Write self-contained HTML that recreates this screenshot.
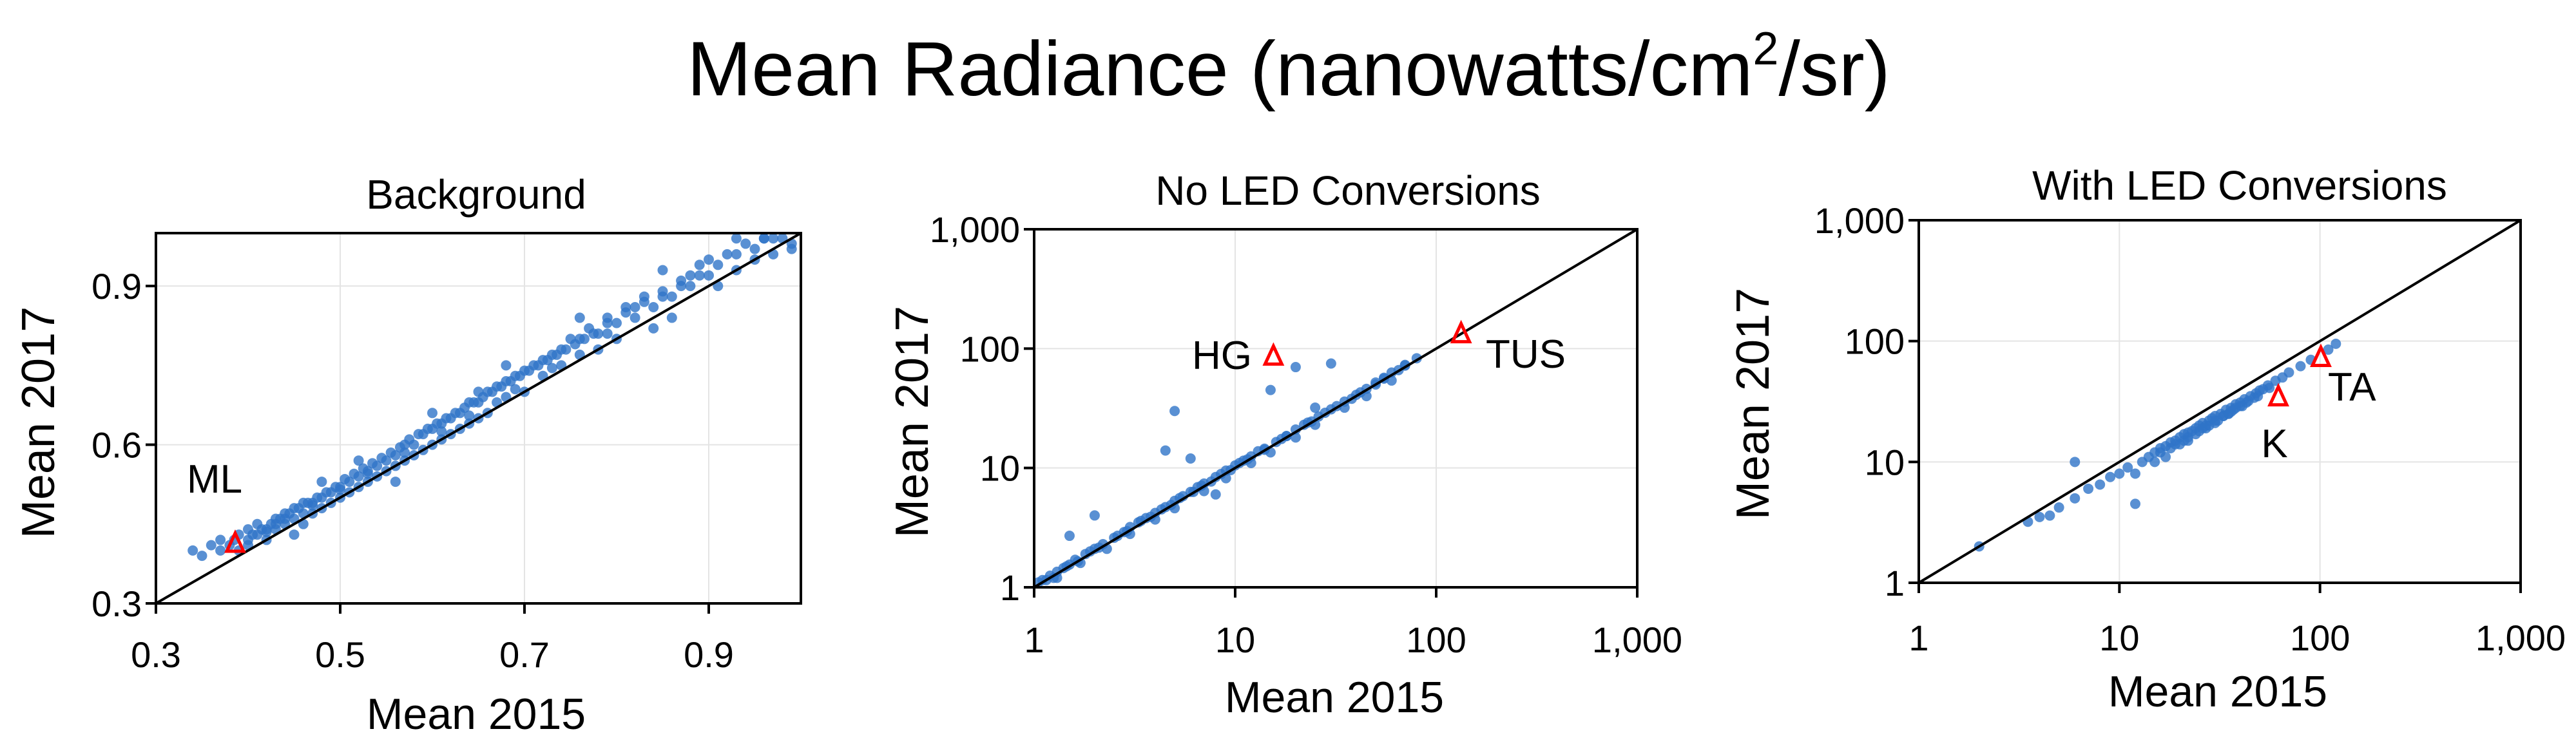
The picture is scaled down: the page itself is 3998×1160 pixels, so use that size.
<!DOCTYPE html>
<html><head><meta charset="utf-8"><style>
html,body{margin:0;padding:0;background:#fff}
svg{display:block;font-family:"Liberation Sans Narrow","Liberation Sans",sans-serif}
</style></head><body>
<svg id="fig" width="3998" height="1160" viewBox="0 0 3998 1160" xmlns="http://www.w3.org/2000/svg">
<text x="2000" y="148" font-size="120" text-anchor="middle" fill="#000" font-family="Liberation Sans, sans-serif">Mean Radiance (nanowatts/cm<tspan font-size="72" dy="-48">2</tspan><tspan dy="48">/sr)</tspan></text>
</svg>
<script>
// Panel 1: Background (linear)
const bgX = [0.34,0.35,0.36,0.37,0.37,0.38,0.39,0.39,0.40,0.40,0.41,0.41,0.42,0.42,0.43,0.43,0.44,0.44,0.45,0.45,0.46,0.46,0.47,0.47,0.48,0.48,0.49,0.49,0.50,0.50,0.51,0.51,0.52,0.52,0.53,0.53,0.54,0.54,0.55,0.55,0.56,0.56,0.57,0.57,0.58,0.58,0.59,0.59,0.60,0.60,0.61,0.61,0.62,0.62,0.63,0.63,0.64,0.64,0.65,0.65,0.66,0.66,0.67,0.67,0.68,0.68,0.69,0.70,0.70,0.71,0.72,0.72,0.73,0.74,0.74,0.75,0.76,0.76,0.77,0.78,0.78,0.79,0.80,0.80,0.81,0.82,0.83,0.84,0.84,0.85,0.86,0.86,0.87,0.88,0.89,0.90,0.91,0.92,0.93,0.94,0.95,0.96,0.97,0.98,0.99,0.45,0.52,0.60,0.68,0.76,0.85,0.93,0.56,0.65,0.48,0.40,0.43,0.46,
 0.385,0.405,0.415,0.425,0.435,0.445,0.455,0.465,0.475,0.485,0.495,0.505,0.515,0.525,0.535,0.545,0.555,0.565,0.575,0.585,0.595,0.605,0.615,0.625,0.635,0.645,0.655,0.665,0.675,0.685,0.695,0.705,0.715,0.725,0.735,0.745,0.755,0.765,0.775,0.79,0.81,0.83,0.85,0.87,0.89,0.91,0.93,0.95,0.97,0.99,0.42,0.44,0.47,0.50,0.53,0.57,0.61,0.64,0.69,0.73,0.79,0.82,0.88,0.90,0.96];
const bgY = [0.40,0.39,0.41,0.40,0.42,0.41,0.43,0.40,0.42,0.44,0.43,0.45,0.44,0.42,0.46,0.44,0.45,0.47,0.46,0.48,0.47,0.45,0.49,0.47,0.50,0.48,0.51,0.49,0.52,0.50,0.53,0.51,0.54,0.52,0.55,0.53,0.56,0.54,0.57,0.55,0.58,0.56,0.60,0.57,0.60,0.58,0.62,0.59,0.63,0.60,0.64,0.61,0.65,0.62,0.66,0.63,0.68,0.64,0.68,0.65,0.70,0.66,0.71,0.68,0.72,0.69,0.73,0.74,0.70,0.75,0.76,0.73,0.77,0.78,0.75,0.80,0.80,0.77,0.82,0.81,0.78,0.84,0.83,0.80,0.86,0.84,0.88,0.86,0.82,0.89,0.88,0.84,0.91,0.90,0.94,0.92,0.90,0.96,0.93,0.98,0.95,0.99,0.96,0.99,0.97,0.43,0.57,0.66,0.75,0.84,0.93,0.99,0.53,0.70,0.53,0.41,0.45,0.49,
 0.42,0.43,0.44,0.45,0.46,0.47,0.48,0.49,0.50,0.51,0.52,0.535,0.545,0.555,0.565,0.575,0.585,0.595,0.61,0.62,0.63,0.64,0.65,0.66,0.67,0.68,0.69,0.70,0.71,0.72,0.73,0.74,0.75,0.76,0.77,0.78,0.79,0.80,0.81,0.83,0.85,0.87,0.88,0.90,0.92,0.94,0.96,0.97,0.99,0.98,0.435,0.46,0.485,0.515,0.545,0.585,0.625,0.655,0.705,0.745,0.81,0.86,0.92,0.95,0.99];
const bgTicks = [0.3,0.5,0.7,0.9];
const bgYTicks = [0.3,0.6,0.9];
const bgTicksLabels = ["0.3","0.5","0.7","0.9"];
const bgYTicksLabels = ["0.3","0.6","0.9"];
const bgMarkX = [0.386]; const bgMarkY = [0.412];
// Panel 2: No LED
const noX = [1.05,1.1,1.2,1.3,1.4,1.5,1.6,1.8,2,2.2,2.5,2.8,3,3.3,3.6,4,4.5,5,5.5,6,6.5,7,8,9,10,11,12,14,16,18,20,23,26,30,35,40,45,50,55,60,70,80,1.3,1.7,2.3,3,4,5,7,9,12,15,20,25,35,45,60,5,4.5,6,20,30,15,2,1.5,8,25,1.15,1.45,1.9,2.6,3.4,4.3,5.3,6.8,8.5,10.5,13,17,22,28,38,50,65,1.25,1.65,2.1,2.9,3.8,4.8,6.2,7.6,9.5,11.5,14,18,24,32,42,55,70];
const noY = [1.1,1.15,1.25,1.35,1.45,1.55,1.7,1.9,2.1,2.3,2.6,2.9,3.2,3.5,3.8,4.2,4.7,5.3,5.8,6.3,6.9,7.4,8.4,9.5,10.5,11.5,12.5,14.5,16.5,18.5,21,24,27,31,36,41,46,52,57,63,73,83,1.2,1.6,2.1,2.8,3.7,4.6,6.4,8.2,11,13.5,18,23,32,40,54,30,14,12,70,75,45,4,2.7,6,32,1.15,1.5,2.0,2.7,3.6,4.5,5.6,7.1,8.9,11,13.8,17.5,23,29,38,50,66,1.2,1.65,2.15,2.95,3.9,4.9,6.3,7.7,9.6,11.8,14.2,18.5,24.5,33,43,56,72];
const noMarkX = [15.5,133]; const noMarkY = [85,131];
// Panel 3: With LED
const ledX = [2,3.5,4,4.5,5,6,6,7,8,9,10,11,12,13,14,15,16,17,18,19,20,21,22,24,25,26,28,30,32,34,36,38,40,42,45,48,50,55,60,65,70,80,90,110,120,18,22,25,28,33,38,44,52,12,15,20,24,30,35,27,31,36,41,47,23,29,16,19,21,26,30,33,37,43,49,56,17,22,27,35,40];
const ledY = [2,3.2,3.5,3.6,4.2,5,10,6,6.5,7.5,8,9,4.5,10,11,12,13,13.5,14.5,15,16,17,17.5,19,20,21,22,24,25,27,28,30,31,33,35,37,39,43,47,50,55,62,70,85,95,13,16,18,20,24,28,32,40,8,10,14,17,21,25,19,22,26,29,34,18,23,12,14,15,19,22,24,27,31,35,41,11,15,20,25,29];
const ledMarkX = [101,62]; const ledMarkY = [72,34];
const logTicks = [1,10,100,1000];
const logLabels = ["1","10","100","1,000"];

const NS="http://www.w3.org/2000/svg";
const svg=document.getElementById('fig');
function mk(tag,attrs,parent){const e=document.createElementNS(NS,tag);for(const k in attrs)e.setAttribute(k,attrs[k]);(parent||svg).appendChild(e);return e;}
function txt(s,attrs,parent){const e=mk('text',attrs,parent);e.textContent=s;return e;}

function panel(cfg){
  const g=mk('g',{});
  
  
  const {L,R,T,B}=cfg;
  const sx=cfg.log?(v=>L+(Math.log10(v)-Math.log10(cfg.xmin))/(Math.log10(cfg.xmax)-Math.log10(cfg.xmin))*(R-L)):(v=>L+(v-cfg.xmin)/(cfg.xmax-cfg.xmin)*(R-L));
  const sy=cfg.log?(v=>B-(Math.log10(v)-Math.log10(cfg.ymin))/(Math.log10(cfg.ymax)-Math.log10(cfg.ymin))*(B-T)):(v=>B-(v-cfg.ymin)/(cfg.ymax-cfg.ymin)*(B-T));
  cfg.xt.forEach((v,i)=>{const x=sx(v);
    const gl=mk('line',{x1:x,x2:x,y1:T,y2:B,stroke:'#e4e4e4','stroke-width':2},g);
    
    
    const tk=mk('line',{x1:x,x2:x,y1:B,y2:B+16,stroke:'#000','stroke-width':4},g);
    
    
    const t=txt(cfg.xl[i],{x:x,y:cfg.xlY,'font-size':56,'text-anchor':'middle',fill:'#000'},g);
    
    
  });
  cfg.yt.forEach((v,i)=>{const y=sy(v);
    const gl=mk('line',{x1:L,x2:R,y1:y,y2:y,stroke:'#e4e4e4','stroke-width':2},g);
    
    
    const tk=mk('line',{x1:L-16,x2:L,y1:y,y2:y,stroke:'#000','stroke-width':4},g);
    
    
    const t=txt(cfg.yl[i],{x:L-22,y:y+20,'font-size':56,'text-anchor':'end',fill:'#000'},g);
    
    
  });
  cfg.px.forEach((v,i)=>{
    const c=mk('circle',{cx:sx(v),cy:sy(cfg.py[i]),r:cfg.r,fill:'#2f74c8','fill-opacity':0.8},g);
    
    
  });
  const d=mk('line',{x1:sx(cfg.xmin),y1:sy(cfg.ymin),x2:sx(cfg.xmax),y2:sy(cfg.ymax),stroke:'#000','stroke-width':4},g);
  
  
  const f=mk('rect',{x:L,y:T,width:R-L,height:B-T,fill:'none',stroke:'#000','stroke-width':4},g);
  
  
  cfg.mx.forEach((v,i)=>{const x=sx(v),y=sy(cfg.my[i]);
    const tr=mk('polygon',{points:`${x},${y-17} ${x-13},${y+11} ${x+13},${y+11}`,fill:'none',stroke:'#ff0000','stroke-width':5},g);
    
    
  });
  cfg.ann.forEach(a=>{const t=txt(a.s,{x:a.x,y:a.y,'font-size':62,'text-anchor':a.a||'start',fill:'#000'},g);
    
    });
  const ti=txt(cfg.title,{x:cfg.tx,y:cfg.ty,'font-size':64,'text-anchor':'middle',fill:'#000'},g);
  
  
  const xa=txt('Mean 2015',{x:cfg.xax,y:cfg.xay,'font-size':68,'text-anchor':'middle',fill:'#000'},g);
  
  
  const ya=txt('Mean 2017',{x:0,y:0,'font-size':72,'text-anchor':'middle',fill:'#000',transform:`translate(${cfg.yax},${cfg.yay}) rotate(-90)`},g);
  
  
}

panel({name:'background-panel',log:false,L:242,R:1243,T:362,B:937,xmin:0.3,xmax:1.0,ymin:0.3,ymax:1.0,
  xt:bgTicks,xl:bgTicksLabels,yt:bgYTicks,yl:bgYTicksLabels,xlY:1036,px:bgX,py:bgY,r:8,mx:bgMarkX,my:bgMarkY,
  ann:[{s:'ML',x:290,y:765}],title:'Background',tx:739,ty:324,xax:739,xay:1132,yax:84,yay:656});
panel({name:'no-led-panel',log:true,L:1605,R:2541,T:356,B:912,xmin:1,xmax:1000,ymin:1,ymax:1000,
  xt:logTicks,xl:logLabels,yt:logTicks,yl:logLabels,xlY:1013,px:noX,py:noY,r:8,mx:noMarkX,my:noMarkY,
  ann:[{s:'HG',x:1943,y:573,a:'end'},{s:'TUS',x:2306,y:571}],title:'No LED Conversions',tx:2092,ty:318,xax:2071,xay:1106,yax:1440,yay:655});
panel({name:'with-led-panel',log:true,L:2978,R:3912,T:342,B:905,xmin:1,xmax:1000,ymin:1,ymax:1000,
  xt:logTicks,xl:logLabels,yt:logTicks,yl:logLabels,xlY:1010,px:ledX,py:ledY,r:8,mx:ledMarkX,my:ledMarkY,
  ann:[{s:'TA',x:3613,y:622},{s:'K',x:3530,y:710,a:'middle'}],title:'With LED Conversions',tx:3476,ty:310,xax:3442,xay:1097,yax:2745,yay:627});
</script>
</body></html>
